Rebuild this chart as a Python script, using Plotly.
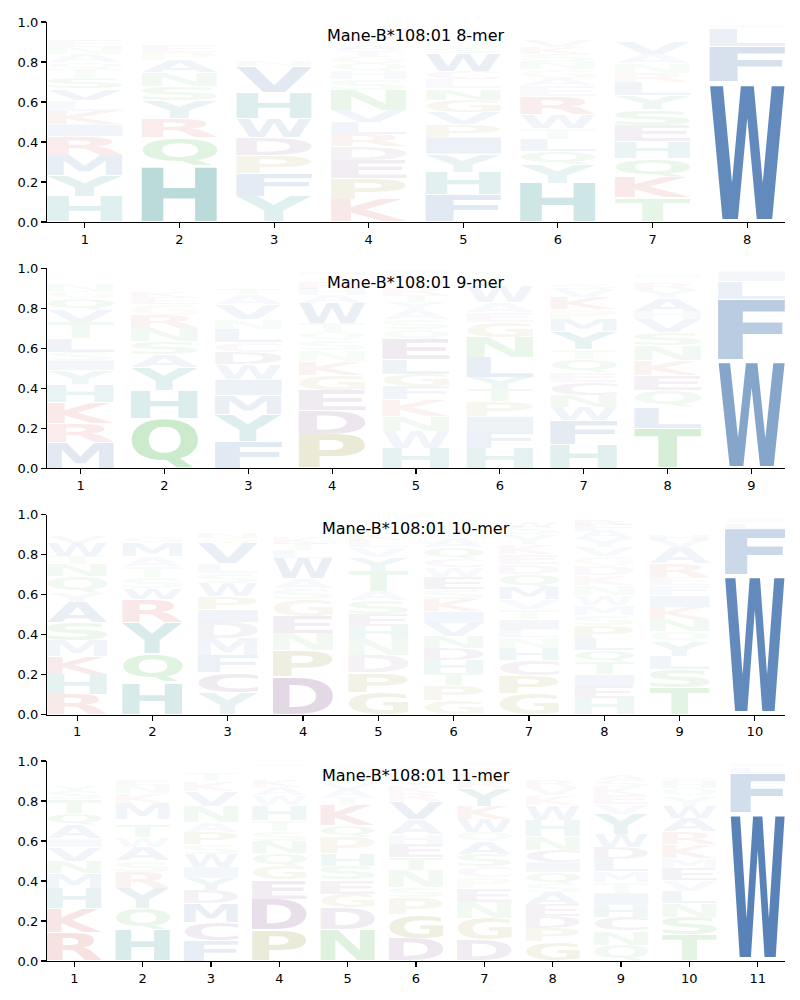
import plotly.graph_objects as go

title_prefix = "Mane-B*108:01"
peptide_lengths = [8, 9, 10, 11]

# letters listed bottom -> top for each position, heights = probabilities
mer8_letters = ["HYMRIKLVSTQANEGFDC", "HQRYSNAPEKDTVLFMG", "YFPDWHVNETKASGMRLQ",
                "KPEDRLVNSHQGTAYFMW", "FHYIPVGNLCWSTAEKDQ", "HYQLTWREAGNSKVPMDF",
                "TKQHESYLRNAVGPDFMW", "WFLIYM"]
mer8_heights = [
    [.127, .105, .100, .095, .062, .067, .053, .057, .058, .040, .035, .040, .035, .030, .025, .025, .020, .015],
    [.280, .145, .093, .090, .072, .070, .060, .040, .030, .025, .020, .020, .015, .015, .010, .010, .010],
    [.127, .116, .089, .091, .092, .132, .130, .030, .025, .020, .020, .020, .020, .015, .015, .015, .015, .010],
    [.113, .105, .092, .070, .060, .060, .060, .100, .055, .040, .040, .035, .030, .030, .030, .025, .020, .015],
    [.135, .115, .090, .085, .065, .060, .060, .057, .045, .040, .090, .030, .025, .025, .020, .020, .015, .015],
    [.195, .095, .065, .060, .055, .070, .090, .055, .035, .045, .040, .035, .035, .030, .025, .025, .020, .015],
    [.120, .105, .095, .082, .080, .080, .070, .066, .045, .050, .045, .060, .025, .020, .020, .015, .010, .010],
    [.700, .180, .090, .015, .008, .007],
]

mer9_letters = ["MRKHYISLTVQGNAEDPFWC", "QHYASNRGEKTDLPVMF", "FYMIWDCLNVATSKQERG",
                "PDEGKNSQTWAHRLYIM", "HWNKFGLEQSAYTRVDPI", "HFIPTYLNGEAWSQKRVD",
                "HFWNCEQTYMPKVSALRG", "TLQEKNSVHAYRGIDF", "WFLIMY"]
mer9_heights = [
    [.130, .095, .105, .090, .070, .050, .040, .070, .080, .060, .060, .035, .030, .025, .020, .015, .010, .010, .005, .005],
    [.250, .140, .115, .065, .065, .065, .065, .055, .035, .030, .025, .020, .020, .015, .015, .010, .010],
    [.135, .135, .095, .080, .075, .060, .050, .065, .050, .075, .050, .030, .025, .020, .020, .015, .010, .010],
    [.170, .120, .100, .075, .070, .055, .050, .040, .045, .100, .040, .030, .030, .025, .020, .015, .010],
    [.100, .085, .075, .085, .065, .060, .075, .100, .050, .050, .045, .040, .035, .035, .030, .025, .020, .020],
    [.100, .085, .075, .075, .060, .060, .100, .100, .075, .050, .050, .080, .025, .020, .015, .015, .010, .010],
    [.120, .120, .065, .060, .065, .050, .065, .050, .090, .060, .050, .060, .040, .030, .025, .020, .015, .015],
    [.200, .105, .085, .075, .075, .075, .065, .065, .040, .065, .040, .035, .025, .020, .015, .010],
    [.540, .305, .090, .050, .010, .005],
]

mer10_letters = ["RHKMSAYQNTWVGEDLIFPC", "HQYRWSTAMGKLENDFPI", "YCFMDIPWSLVGNTAEQH",
                 "DPNEGSAWLTKQVYHRIMFC", "GPDNHESATYVLKQRMWF", "GPTHDNVIKSEWCQAYLMRF",
                 "GPCHNLITVMQDEKYSWAR", "HEITQLPSMWNKDGVYAFRC", "TSLYQNKIFERAVHMGDPW", "WFLIMYV"]
mer10_heights = [
    [.100, .100, .090, .080, .090, .100, .050, .080, .060, .040, .070, .030, .025, .020, .020, .015, .010, .010, .010, .005],
    [.160, .145, .155, .115, .057, .055, .055, .050, .070, .030, .025, .020, .015, .015, .010, .010, .010, .005],
    [.110, .100, .085, .085, .080, .065, .065, .065, .050, .050, .100, .030, .030, .025, .020, .015, .010, .010],
    [.190, .130, .085, .085, .085, .055, .050, .100, .040, .035, .030, .025, .020, .015, .015, .010, .010, .010, .005, .005],
    [.110, .100, .085, .080, .065, .060, .070, .045, .100, .070, .050, .040, .030, .025, .020, .020, .015, .015],
    [.070, .075, .060, .065, .060, .060, .065, .060, .060, .050, .060, .050, .040, .060, .050, .040, .030, .020, .020, .015],
    [.105, .090, .075, .060, .055, .040, .050, .050, .050, .060, .065, .050, .050, .050, .050, .040, .030, .020, .010],
    [.080, .060, .060, .060, .060, .060, .065, .050, .050, .050, .050, .050, .050, .045, .045, .045, .040, .030, .030, .020],
    [.135, .090, .065, .075, .050, .060, .060, .060, .050, .040, .070, .080, .040, .030, .025, .020, .020, .015, .015],
    [.700, .230, .030, .020, .010, .006, .004],
]

mer11_letters = ["RKHMNVIAQTSYGEDLFWPC", "HQYRSAWTGMKNEDLFPV", "FCMDYIWSPANVKTLEGQ",
                 "PDEGQNSTHWAKVYLRIMFC", "NDGESHPQKTAVWYLRIMF", "DGPSNTEHAVRKYQWLIMFC",
                 "DGNEPCSAQWKYRVLTHIMF", "GPDEASQICNHWKVRLYTMF", "QNCHITMLDWYVEKSAGRFP",
                 "TSNLVEMKRAWYQHIGDFP", "WFLIMY"]
mer11_heights = [
    [.140, .125, .100, .075, .060, .070, .040, .070, .060, .070, .040, .030, .025, .025, .020, .015, .015, .010, .010, .005],
    [.155, .110, .100, .080, .055, .070, .050, .065, .025, .080, .050, .040, .030, .025, .020, .015, .015, .010],
    [.100, .095, .095, .065, .060, .055, .065, .050, .060, .050, .080, .075, .050, .040, .025, .020, .010, .010],
    [.155, .155, .095, .070, .065, .060, .050, .055, .075, .050, .040, .035, .025, .020, .015, .010, .010, .010, .005, .005],
    [.155, .110, .070, .070, .070, .060, .085, .060, .100, .040, .040, .030, .025, .020, .020, .015, .010, .010, .010],
    [.113, .120, .085, .050, .085, .065, .065, .050, .075, .090, .040, .035, .030, .025, .020, .015, .010, .010, .010, .005],
    [.105, .110, .080, .070, .055, .055, .060, .060, .050, .065, .065, .090, .040, .030, .020, .015, .010, .010, .005, .005],
    [.095, .070, .060, .060, .060, .040, .060, .050, .060, .070, .080, .075, .050, .040, .030, .020, .020, .015, .010, .005],
    [.080, .070, .070, .060, .060, .055, .055, .060, .060, .065, .100, .050, .045, .040, .035, .030, .020, .020, .015, .010],
    [.130, .090, .070, .060, .055, .060, .050, .070, .060, .070, .060, .050, .040, .030, .020, .020, .015, .010, .010],
    [.740, .200, .030, .020, .007, .003],
]

panels = [(mer8_letters, mer8_heights), (mer9_letters, mer9_heights),
          (mer10_letters, mer10_heights), (mer11_letters, mer11_heights)]

group_rgb = {
    "hydrophobic": (31, 88, 159),
    "aromatic_polar": (10, 125, 125),
    "polar": (50, 170, 50),
    "small": (128, 128, 20),
    "acidic": (110, 50, 120),
    "basic": (200, 50, 50),
}
letter_group = {}
for ch in "AVLIMFW":
    letter_group[ch] = "hydrophobic"
for ch in "HY":
    letter_group[ch] = "aromatic_polar"
for ch in "NQST":
    letter_group[ch] = "polar"
for ch in "GP":
    letter_group[ch] = "small"
for ch in "DEC":
    letter_group[ch] = "acidic"
for ch in "KR":
    letter_group[ch] = "basic"

LETTER_WIDTH = 0.8
W, H = 800, 1000
M_L, M_R, M_T, M_B = 47, 15, 22, 39
plot_h = H - M_T - M_B
panel_px = 200
gap_px = (plot_h - 4 * panel_px) / 3.0

fig = go.Figure()
for k, (letters_list, heights_list) in enumerate(panels):
    n = peptide_lengths[k]
    axn = "" if k == 0 else str(k + 1)
    xs, ys, txt, cols, sizes, boxes = [], [], [], [], [], []
    for p, (letters, hs) in enumerate(zip(letters_list, heights_list), start=1):
        base = 0.0
        for ch, h in zip(letters, hs):
            y0, y1 = base, base + h
            xs.append(p)
            ys.append((y0 + y1) / 2)
            txt.append(ch)
            r, g, b = group_rgb[letter_group[ch]]
            cols.append("rgba(%d,%d,%d,%.3f)" % (r, g, b, min(1.0, h)))
            sizes.append(max(1.0, h * panel_px / 0.73))
            boxes.append([p - LETTER_WIDTH / 2, p + LETTER_WIDTH / 2, y0, y1])
            base = y1
    fig.add_trace(go.Scatter(
        x=xs, y=ys, text=txt, mode="text", customdata=boxes,
        textfont=dict(family="DejaVu Sans", size=sizes, color=cols, weight="bold"),
        textposition="middle center", hoverinfo="skip", showlegend=False,
        xaxis="x" + axn, yaxis="y" + axn, cliponaxis=True,
    ))
    top_px = M_T + k * (panel_px + gap_px)
    bot_px = top_px + panel_px
    dom = [(H - M_B - bot_px) / plot_h, (H - M_B - top_px) / plot_h]
    dom = [max(0.0, dom[0]), min(1.0, dom[1])]
    axis_common = dict(showline=True, linecolor="black", linewidth=1.1, mirror=False,
                       ticks="outside", ticklen=5, tickwidth=1.1, tickcolor="black",
                       showgrid=False, zeroline=False,
                       tickfont=dict(family="DejaVu Sans", size=13, color="black"))
    fig.update_layout(**{
        "xaxis" + axn: dict(axis_common, domain=[0, 1], range=[0.6, n + 0.4],
                            tickmode="array", tickvals=list(range(1, n + 1)),
                            anchor="y" + axn),
        "yaxis" + axn: dict(axis_common, domain=dom, range=[0, 1],
                            tickmode="array", tickvals=[0, 0.2, 0.4, 0.6, 0.8, 1.0],
                            ticktext=["0.0", "0.2", "0.4", "0.6", "0.8", "1.0"],
                            anchor="x" + axn),
    })
    fig.add_annotation(text="%s %d-mer" % (title_prefix, n), x=0.5, y=0.93,
                       xref="x%s domain" % axn, yref="y%s domain" % axn,
                       showarrow=False, xanchor="center", yanchor="middle",
                       font=dict(family="DejaVu Sans", size=16, color="black"))

fig.update_layout(width=W, height=H, margin=dict(l=M_L, r=M_R, t=M_T, b=M_B),
                  paper_bgcolor="white", plot_bgcolor="white", showlegend=False)

post_js = r"""
(function(){
document.documentElement.style.margin = '0';
document.body.style.margin = '0';
document.body.style.padding = '0';
document.body.style.overflow = 'hidden';
var gd = document.getElementById('{plot_id}');
var cv = document.createElement('canvas');
var ctx = cv.getContext('2d');
var FS = 100;
ctx.font = 'bold ' + FS + 'px "DejaVu Sans"';
var cache = {};
function metrics(ch){
  if(!cache[ch]){
    var m = ctx.measureText(ch);
    cache[ch] = {L: m.actualBoundingBoxLeft, R: m.actualBoundingBoxRight,
                 A: m.actualBoundingBoxAscent, D: m.actualBoundingBoxDescent};
  }
  return cache[ch];
}
function stretch(){
  var fl = gd._fullLayout;
  var groups = gd.querySelectorAll('.scatterlayer g.trace');
  groups.forEach(function(tg){
    var cd = tg.__data__;
    if(!cd || !cd[0] || !cd[0].trace) return;
    var tr = cd[0].trace;
    if(!tr.customdata) return;
    var xa = fl['xaxis' + tr.xaxis.slice(1)];
    var ya = fl['yaxis' + tr.yaxis.slice(1)];
    var texts = tg.querySelectorAll('g.textpoint text');
    texts.forEach(function(t, idx){
      var d = t.__data__ || t.parentNode.__data__;
      var i = (d && typeof d.i === 'number') ? d.i : idx;
      var box = tr.customdata[i];
      var ch = tr.text[i];
      if(!box || !ch) return;
      var m = metrics(ch);
      var h = box[3] - box[2];
      var pad = 0.025 * h;
      var px0 = xa.c2p(box[0]), px1 = xa.c2p(box[1]);
      var pyTop = ya.c2p(box[3] - pad), pyBot = ya.c2p(box[2] + pad);
      var sx = (px1 - px0) / (m.L + m.R);
      var sy = (pyBot - pyTop) / (m.A + m.D);
      t.parentNode.removeAttribute('transform');
      t.querySelectorAll('tspan').forEach(function(s){
        s.removeAttribute('x'); s.removeAttribute('y'); s.removeAttribute('dy');
      });
      t.setAttribute('x', 0); t.setAttribute('y', 0);
      t.removeAttribute('dy');
      t.setAttribute('text-anchor', 'start');
      t.style.fontFamily = '"DejaVu Sans"';
      t.style.fontWeight = 'bold';
      t.style.fontSize = FS + 'px';
      t.setAttribute('transform', 'translate(' + (px0 + m.L * sx) + ',' + (pyTop + m.A * sy) +
                     ') scale(' + sx + ',' + sy + ')');
    });
  });
}
stretch();
gd.on('plotly_afterplot', stretch);
})();
"""

fig.write_html("out.html", post_script=post_js,
               config={"displayModeBar": False, "staticPlot": True})
